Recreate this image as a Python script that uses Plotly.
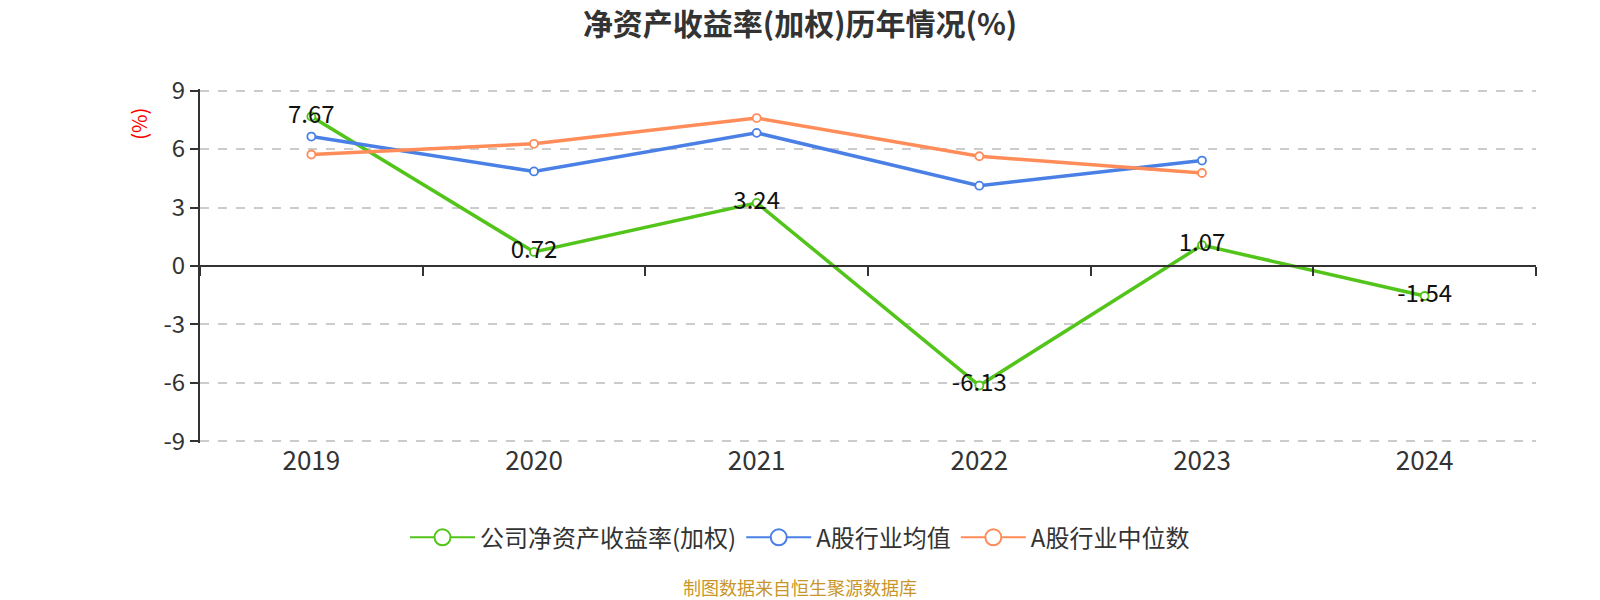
import plotly.graph_objects as go

years = ["2019", "2020", "2021", "2022", "2023", "2024"]
company_roe = [7.67, 0.72, 3.24, -6.13, 1.07, -1.54]
industry_mean = [6.64, 4.85, 6.83, 4.12, 5.41, None]
industry_median = [5.72, 6.27, 7.59, 5.63, 4.77, None]
y_ticks = [-9, -6, -3, 0, 3, 6, 9]
y_tick_text = ["-9", "-6", "-3", "0", "3", "6", "9"]

names = ["公司净资产收益率(加权)", "A股行业均值", "A股行业中位数"]
colors = ["#52c41a", "#4a80e6", "#ff8c59"]
series = [company_roe, industry_mean, industry_median]

FONT = "Noto Sans CJK SC"
OFF = 8  # page body margin of the browser
W, H = 1600, 600
PAD = 0.08 * 350 / 18  # range padding so edge gridlines are kept
L, R = 200 - OFF, 1536 - OFF
T, B = 91 - OFF - PAD, 441 - OFF + PAD


def px(sx):
    return (sx - OFF - L) / (R - L)


def py(sy):
    return (B - (sy - OFF)) / (B - T)


fig = go.Figure()

for i, (vals, col) in enumerate(zip(series, colors)):
    is_company = i == 0
    fig.add_trace(go.Scatter(
        x=years, y=vals, name=names[i], xaxis="x", yaxis="y",
        mode="lines+markers+text" if is_company else "lines+markers",
        line=dict(color=col, width=3.5),
        marker=dict(symbol="circle", size=8, color="white", line=dict(color=col, width=1.8)),
        text=[f"{v:.2f}" for v in vals] if is_company else None,
        textposition="middle center",
        textfont=dict(family=FONT, size=24, color="#111111"),
        showlegend=False, cliponaxis=False,
    ))

fig.add_trace(go.Scatter(x=years, y=[None] * len(years), xaxis="x2", yaxis="y",
                         mode="lines", showlegend=False, hoverinfo="skip"))

for name, col in zip(names, colors):
    fig.add_trace(go.Scatter(
        x=[None], y=[None], name=name, mode="lines+markers",
        line=dict(color=col, width=2),
        marker=dict(symbol="circle", size=16, color="white", line=dict(color=col, width=2)),
    ))

fig.update_layout(
    width=W, height=H,
    paper_bgcolor="white", plot_bgcolor="white",
    margin=dict(l=L, r=W - R, t=T, b=H - B),
    font=dict(family=FONT, color="#333333"),
    title=dict(text="<b>净资产收益率(加权)历年情况(%)</b>", x=0.5 - OFF / W, xanchor="center",
               y=1 - (24 - OFF) / H, yanchor="middle", yref="container",
               font=dict(family=FONT, size=30, color="#333333")),
    xaxis=dict(type="category", categoryorder="array", categoryarray=years,
               range=[-0.5, 5.5], anchor="free", position=0.5,
               showline=True, linecolor="#333333", linewidth=2,
               ticks="outside", tickson="boundaries", ticklen=9, tickwidth=2, tickcolor="#333333",
               showticklabels=False, showgrid=False, zeroline=False),
    xaxis2=dict(type="category", categoryorder="array", categoryarray=years,
                range=[-0.5, 5.5], overlaying="x", anchor="y", side="bottom",
                showline=False, ticks="", showgrid=False, zeroline=False,
                tickfont=dict(family=FONT, size=26, color="#333333")),
    yaxis=dict(range=[-9.08, 9.08], tickvals=y_ticks, ticktext=y_tick_text,
               showline=True, linecolor="#333333", linewidth=2,
               ticks="outside", ticklen=8, tickwidth=2, tickcolor="#333333",
               tickfont=dict(family=FONT, size=24, color="#333333"),
               showgrid=True, gridcolor="#cccccc", gridwidth=1.5, griddash="dash",
               zeroline=False),
    legend=dict(orientation="h", x=px(800), xanchor="center", y=py(537), yanchor="middle",
                font=dict(family=FONT, size=24, color="#333333"), itemwidth=65,
                tracegroupgap=0, bgcolor="rgba(0,0,0,0)"),
    annotations=[
        dict(text="(%)", xref="paper", yref="paper", x=px(139), y=py(124),
             textangle=-90, showarrow=False, xanchor="center", yanchor="middle",
             font=dict(family=FONT, size=20, color="#ff0000")),
        dict(text="制图数据来自恒生聚源数据库", xref="paper", yref="paper", x=px(800),
             y=py(586), showarrow=False, xanchor="center", yanchor="middle",
             font=dict(family=FONT, size=18, color="#c8962a")),
    ],
)

fig.write_html("out.html")
